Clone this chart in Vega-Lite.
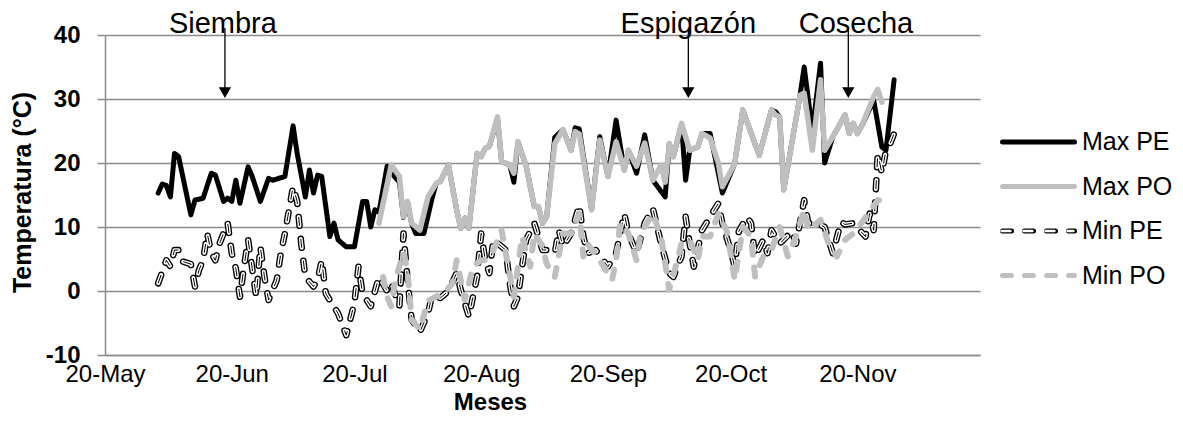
{
  "$schema": "https://vega.github.io/schema/vega-lite/v6.json",
  "width": 875,
  "height": 320,
  "autosize": {"type": "none"},
  "padding": {"left": 105, "top": 35, "right": 203, "bottom": 75},
  "config": {
    "font": "Liberation Sans",
    "view": {"stroke": null},
    "axis": {
      "gridColor": "#8c8c8c", "gridWidth": 1.5,
      "domainColor": "#8c8c8c", "domainWidth": 1.5,
      "tickColor": "#8c8c8c", "tickWidth": 1.5,
      "labelColor": "#000000", "titleColor": "#000000",
      "labelFont": "Liberation Sans", "titleFont": "Liberation Sans"
    },
    "legend": {"labelFont": "Liberation Sans"}
  },
  "datasets": {
    "temperaturas": [
      {"fecha": "2011-06-02", "serie": "Max PE", "temp": 15.3},
      {"fecha": "2011-06-03", "serie": "Max PE", "temp": 16.7},
      {"fecha": "2011-06-04", "serie": "Max PE", "temp": 16.5},
      {"fecha": "2011-06-05", "serie": "Max PE", "temp": 14.7},
      {"fecha": "2011-06-06", "serie": "Max PE", "temp": 21.5},
      {"fecha": "2011-06-07", "serie": "Max PE", "temp": 21},
      {"fecha": "2011-06-10", "serie": "Max PE", "temp": 11.9},
      {"fecha": "2011-06-11", "serie": "Max PE", "temp": 14.2},
      {"fecha": "2011-06-13", "serie": "Max PE", "temp": 14.5},
      {"fecha": "2011-06-15", "serie": "Max PE", "temp": 18.4},
      {"fecha": "2011-06-16", "serie": "Max PE", "temp": 18.1},
      {"fecha": "2011-06-18", "serie": "Max PE", "temp": 14},
      {"fecha": "2011-06-19", "serie": "Max PE", "temp": 14.5},
      {"fecha": "2011-06-20", "serie": "Max PE", "temp": 14},
      {"fecha": "2011-06-21", "serie": "Max PE", "temp": 17.3},
      {"fecha": "2011-06-22", "serie": "Max PE", "temp": 13.7},
      {"fecha": "2011-06-24", "serie": "Max PE", "temp": 19.4},
      {"fecha": "2011-06-25", "serie": "Max PE", "temp": 17.9},
      {"fecha": "2011-06-27", "serie": "Max PE", "temp": 14},
      {"fecha": "2011-06-29", "serie": "Max PE", "temp": 17.6},
      {"fecha": "2011-06-30", "serie": "Max PE", "temp": 17.3},
      {"fecha": "2011-07-03", "serie": "Max PE", "temp": 17.9},
      {"fecha": "2011-07-05", "serie": "Max PE", "temp": 25.8},
      {"fecha": "2011-07-06", "serie": "Max PE", "temp": 21.5},
      {"fecha": "2011-07-08", "serie": "Max PE", "temp": 14.7},
      {"fecha": "2011-07-09", "serie": "Max PE", "temp": 18.9},
      {"fecha": "2011-07-10", "serie": "Max PE", "temp": 15.3},
      {"fecha": "2011-07-11", "serie": "Max PE", "temp": 18.1},
      {"fecha": "2011-07-12", "serie": "Max PE", "temp": 17.9},
      {"fecha": "2011-07-14", "serie": "Max PE", "temp": 8.5},
      {"fecha": "2011-07-15", "serie": "Max PE", "temp": 10.6},
      {"fecha": "2011-07-16", "serie": "Max PE", "temp": 8},
      {"fecha": "2011-07-18", "serie": "Max PE", "temp": 6.9},
      {"fecha": "2011-07-20", "serie": "Max PE", "temp": 6.9},
      {"fecha": "2011-07-22", "serie": "Max PE", "temp": 14},
      {"fecha": "2011-07-23", "serie": "Max PE", "temp": 14},
      {"fecha": "2011-07-24", "serie": "Max PE", "temp": 10},
      {"fecha": "2011-07-25", "serie": "Max PE", "temp": 12.7},
      {"fecha": "2011-07-26", "serie": "Max PE", "temp": 12.3},
      {"fecha": "2011-07-28", "serie": "Max PE", "temp": 19.5},
      {"fecha": "2011-07-29", "serie": "Max PE", "temp": 18.5},
      {"fecha": "2011-07-31", "serie": "Max PE", "temp": 17},
      {"fecha": "2011-08-01", "serie": "Max PE", "temp": 11.5},
      {"fecha": "2011-08-02", "serie": "Max PE", "temp": 13.8},
      {"fecha": "2011-08-03", "serie": "Max PE", "temp": 10.5},
      {"fecha": "2011-08-04", "serie": "Max PE", "temp": 9},
      {"fecha": "2011-08-06", "serie": "Max PE", "temp": 9},
      {"fecha": "2011-08-08", "serie": "Max PE", "temp": 14.5},
      {"fecha": "2011-08-09", "serie": "Max PE", "temp": 16.8},
      {"fecha": "2011-08-10", "serie": "Max PE", "temp": 17.1},
      {"fecha": "2011-08-12", "serie": "Max PE", "temp": 19.7},
      {"fecha": "2011-08-14", "serie": "Max PE", "temp": 12.7},
      {"fecha": "2011-08-15", "serie": "Max PE", "temp": 9.8},
      {"fecha": "2011-08-16", "serie": "Max PE", "temp": 11.4},
      {"fecha": "2011-08-17", "serie": "Max PE", "temp": 9.8},
      {"fecha": "2011-08-19", "serie": "Max PE", "temp": 21.5},
      {"fecha": "2011-08-20", "serie": "Max PE", "temp": 21},
      {"fecha": "2011-08-21", "serie": "Max PE", "temp": 22.3},
      {"fecha": "2011-08-22", "serie": "Max PE", "temp": 22.6},
      {"fecha": "2011-08-24", "serie": "Max PE", "temp": 27},
      {"fecha": "2011-08-25", "serie": "Max PE", "temp": 20.2},
      {"fecha": "2011-08-27", "serie": "Max PE", "temp": 19.7},
      {"fecha": "2011-08-28", "serie": "Max PE", "temp": 17},
      {"fecha": "2011-08-29", "serie": "Max PE", "temp": 23.3},
      {"fecha": "2011-08-31", "serie": "Max PE", "temp": 19.5},
      {"fecha": "2011-09-02", "serie": "Max PE", "temp": 13.2},
      {"fecha": "2011-09-03", "serie": "Max PE", "temp": 13.2},
      {"fecha": "2011-09-04", "serie": "Max PE", "temp": 10.6},
      {"fecha": "2011-09-05", "serie": "Max PE", "temp": 11.5},
      {"fecha": "2011-09-07", "serie": "Max PE", "temp": 24},
      {"fecha": "2011-09-09", "serie": "Max PE", "temp": 25.2},
      {"fecha": "2011-09-11", "serie": "Max PE", "temp": 22},
      {"fecha": "2011-09-12", "serie": "Max PE", "temp": 25.5},
      {"fecha": "2011-09-13", "serie": "Max PE", "temp": 25.3},
      {"fecha": "2011-09-16", "serie": "Max PE", "temp": 12.7},
      {"fecha": "2011-09-18", "serie": "Max PE", "temp": 24.1},
      {"fecha": "2011-09-20", "serie": "Max PE", "temp": 17.9},
      {"fecha": "2011-09-22", "serie": "Max PE", "temp": 26.7},
      {"fecha": "2011-09-24", "serie": "Max PE", "temp": 18.9},
      {"fecha": "2011-09-25", "serie": "Max PE", "temp": 22},
      {"fecha": "2011-09-27", "serie": "Max PE", "temp": 18.4},
      {"fecha": "2011-09-29", "serie": "Max PE", "temp": 24.4},
      {"fecha": "2011-10-01", "serie": "Max PE", "temp": 17.3},
      {"fecha": "2011-10-04", "serie": "Max PE", "temp": 14.7},
      {"fecha": "2011-10-05", "serie": "Max PE", "temp": 23},
      {"fecha": "2011-10-06", "serie": "Max PE", "temp": 21},
      {"fecha": "2011-10-08", "serie": "Max PE", "temp": 26},
      {"fecha": "2011-10-09", "serie": "Max PE", "temp": 17.3},
      {"fecha": "2011-10-10", "serie": "Max PE", "temp": 22},
      {"fecha": "2011-10-12", "serie": "Max PE", "temp": 22.5},
      {"fecha": "2011-10-13", "serie": "Max PE", "temp": 24.6},
      {"fecha": "2011-10-15", "serie": "Max PE", "temp": 24.6},
      {"fecha": "2011-10-18", "serie": "Max PE", "temp": 15.3},
      {"fecha": "2011-10-21", "serie": "Max PE", "temp": 19.9},
      {"fecha": "2011-10-23", "serie": "Max PE", "temp": 28.3},
      {"fecha": "2011-10-25", "serie": "Max PE", "temp": 24.7},
      {"fecha": "2011-10-27", "serie": "Max PE", "temp": 21.2},
      {"fecha": "2011-10-30", "serie": "Max PE", "temp": 28.3},
      {"fecha": "2011-10-31", "serie": "Max PE", "temp": 28},
      {"fecha": "2011-11-01", "serie": "Max PE", "temp": 27.2},
      {"fecha": "2011-11-02", "serie": "Max PE", "temp": 15.8},
      {"fecha": "2011-11-06", "serie": "Max PE", "temp": 30.6},
      {"fecha": "2011-11-07", "serie": "Max PE", "temp": 35},
      {"fecha": "2011-11-09", "serie": "Max PE", "temp": 25},
      {"fecha": "2011-11-11", "serie": "Max PE", "temp": 35.6},
      {"fecha": "2011-11-12", "serie": "Max PE", "temp": 20},
      {"fecha": "2011-11-14", "serie": "Max PE", "temp": 24.1},
      {"fecha": "2011-11-17", "serie": "Max PE", "temp": 27.5},
      {"fecha": "2011-11-18", "serie": "Max PE", "temp": 24.6},
      {"fecha": "2011-11-19", "serie": "Max PE", "temp": 26.2},
      {"fecha": "2011-11-20", "serie": "Max PE", "temp": 24.6},
      {"fecha": "2011-11-21", "serie": "Max PE", "temp": 25.7},
      {"fecha": "2011-11-24", "serie": "Max PE", "temp": 29.8},
      {"fecha": "2011-11-26", "serie": "Max PE", "temp": 22.5},
      {"fecha": "2011-11-27", "serie": "Max PE", "temp": 22},
      {"fecha": "2011-11-29", "serie": "Max PE", "temp": 33},

      {"fecha": "2011-07-26", "serie": "Max PO", "temp": 10.6},
      {"fecha": "2011-07-29", "serie": "Max PO", "temp": 19.7},
      {"fecha": "2011-07-31", "serie": "Max PO", "temp": 17.9},
      {"fecha": "2011-08-01", "serie": "Max PO", "temp": 11.6},
      {"fecha": "2011-08-02", "serie": "Max PO", "temp": 14},
      {"fecha": "2011-08-03", "serie": "Max PO", "temp": 10.6},
      {"fecha": "2011-08-05", "serie": "Max PO", "temp": 9.5},
      {"fecha": "2011-08-07", "serie": "Max PO", "temp": 14.7},
      {"fecha": "2011-08-09", "serie": "Max PO", "temp": 16.8},
      {"fecha": "2011-08-10", "serie": "Max PO", "temp": 17.1},
      {"fecha": "2011-08-12", "serie": "Max PO", "temp": 19.7},
      {"fecha": "2011-08-14", "serie": "Max PO", "temp": 12.7},
      {"fecha": "2011-08-15", "serie": "Max PO", "temp": 9.8},
      {"fecha": "2011-08-16", "serie": "Max PO", "temp": 11.4},
      {"fecha": "2011-08-17", "serie": "Max PO", "temp": 9.8},
      {"fecha": "2011-08-19", "serie": "Max PO", "temp": 21.5},
      {"fecha": "2011-08-20", "serie": "Max PO", "temp": 21},
      {"fecha": "2011-08-21", "serie": "Max PO", "temp": 22.3},
      {"fecha": "2011-08-22", "serie": "Max PO", "temp": 22.6},
      {"fecha": "2011-08-24", "serie": "Max PO", "temp": 27.2},
      {"fecha": "2011-08-25", "serie": "Max PO", "temp": 20.2},
      {"fecha": "2011-08-27", "serie": "Max PO", "temp": 19.7},
      {"fecha": "2011-08-28", "serie": "Max PO", "temp": 18.4},
      {"fecha": "2011-08-29", "serie": "Max PO", "temp": 23.3},
      {"fecha": "2011-08-31", "serie": "Max PO", "temp": 19.5},
      {"fecha": "2011-09-02", "serie": "Max PO", "temp": 13.2},
      {"fecha": "2011-09-03", "serie": "Max PO", "temp": 13.2},
      {"fecha": "2011-09-04", "serie": "Max PO", "temp": 10.6},
      {"fecha": "2011-09-05", "serie": "Max PO", "temp": 11.5},
      {"fecha": "2011-09-07", "serie": "Max PO", "temp": 23},
      {"fecha": "2011-09-09", "serie": "Max PO", "temp": 25.2},
      {"fecha": "2011-09-11", "serie": "Max PO", "temp": 22},
      {"fecha": "2011-09-12", "serie": "Max PO", "temp": 24.9},
      {"fecha": "2011-09-13", "serie": "Max PO", "temp": 24.5},
      {"fecha": "2011-09-16", "serie": "Max PO", "temp": 12.7},
      {"fecha": "2011-09-18", "serie": "Max PO", "temp": 23.6},
      {"fecha": "2011-09-20", "serie": "Max PO", "temp": 17.9},
      {"fecha": "2011-09-22", "serie": "Max PO", "temp": 23.3},
      {"fecha": "2011-09-24", "serie": "Max PO", "temp": 18.9},
      {"fecha": "2011-09-25", "serie": "Max PO", "temp": 22},
      {"fecha": "2011-09-27", "serie": "Max PO", "temp": 19.5},
      {"fecha": "2011-09-29", "serie": "Max PO", "temp": 23.1},
      {"fecha": "2011-10-01", "serie": "Max PO", "temp": 17.3},
      {"fecha": "2011-10-03", "serie": "Max PO", "temp": 19.7},
      {"fecha": "2011-10-04", "serie": "Max PO", "temp": 17},
      {"fecha": "2011-10-05", "serie": "Max PO", "temp": 23},
      {"fecha": "2011-10-06", "serie": "Max PO", "temp": 21},
      {"fecha": "2011-10-08", "serie": "Max PO", "temp": 26.2},
      {"fecha": "2011-10-10", "serie": "Max PO", "temp": 22},
      {"fecha": "2011-10-12", "serie": "Max PO", "temp": 22.5},
      {"fecha": "2011-10-13", "serie": "Max PO", "temp": 24.6},
      {"fecha": "2011-10-15", "serie": "Max PO", "temp": 23.9},
      {"fecha": "2011-10-17", "serie": "Max PO", "temp": 20},
      {"fecha": "2011-10-18", "serie": "Max PO", "temp": 16.3},
      {"fecha": "2011-10-21", "serie": "Max PO", "temp": 19.9},
      {"fecha": "2011-10-23", "serie": "Max PO", "temp": 28.3},
      {"fecha": "2011-10-25", "serie": "Max PO", "temp": 24.7},
      {"fecha": "2011-10-27", "serie": "Max PO", "temp": 21.2},
      {"fecha": "2011-10-30", "serie": "Max PO", "temp": 28.3},
      {"fecha": "2011-10-31", "serie": "Max PO", "temp": 27.5},
      {"fecha": "2011-11-01", "serie": "Max PO", "temp": 27.2},
      {"fecha": "2011-11-02", "serie": "Max PO", "temp": 15.8},
      {"fecha": "2011-11-06", "serie": "Max PO", "temp": 30.6},
      {"fecha": "2011-11-07", "serie": "Max PO", "temp": 30.9},
      {"fecha": "2011-11-09", "serie": "Max PO", "temp": 22},
      {"fecha": "2011-11-11", "serie": "Max PO", "temp": 33},
      {"fecha": "2011-11-12", "serie": "Max PO", "temp": 22},
      {"fecha": "2011-11-14", "serie": "Max PO", "temp": 24.1},
      {"fecha": "2011-11-17", "serie": "Max PO", "temp": 27.5},
      {"fecha": "2011-11-18", "serie": "Max PO", "temp": 24.6},
      {"fecha": "2011-11-19", "serie": "Max PO", "temp": 26.2},
      {"fecha": "2011-11-20", "serie": "Max PO", "temp": 24.6},
      {"fecha": "2011-11-21", "serie": "Max PO", "temp": 25.7},
      {"fecha": "2011-11-24", "serie": "Max PO", "temp": 30.4},
      {"fecha": "2011-11-25", "serie": "Max PO", "temp": 31.5},
      {"fecha": "2011-11-26", "serie": "Max PO", "temp": 29.5},

      {"fecha": "2011-06-02", "serie": "Min PE", "temp": 1.2},
      {"fecha": "2011-06-04", "serie": "Min PE", "temp": 4.8},
      {"fecha": "2011-06-05", "serie": "Min PE", "temp": 3.8},
      {"fecha": "2011-06-06", "serie": "Min PE", "temp": 6.4},
      {"fecha": "2011-06-07", "serie": "Min PE", "temp": 6.4},
      {"fecha": "2011-06-08", "serie": "Min PE", "temp": 4.6},
      {"fecha": "2011-06-10", "serie": "Min PE", "temp": 4.2},
      {"fecha": "2011-06-11", "serie": "Min PE", "temp": 0.7},
      {"fecha": "2011-06-12", "serie": "Min PE", "temp": 3.3},
      {"fecha": "2011-06-13", "serie": "Min PE", "temp": 4.8},
      {"fecha": "2011-06-14", "serie": "Min PE", "temp": 9},
      {"fecha": "2011-06-15", "serie": "Min PE", "temp": 5.9},
      {"fecha": "2011-06-16", "serie": "Min PE", "temp": 4.8},
      {"fecha": "2011-06-17", "serie": "Min PE", "temp": 7.4},
      {"fecha": "2011-06-19", "serie": "Min PE", "temp": 10.6},
      {"fecha": "2011-06-20", "serie": "Min PE", "temp": 5.9},
      {"fecha": "2011-06-21", "serie": "Min PE", "temp": 3.5},
      {"fecha": "2011-06-22", "serie": "Min PE", "temp": -0.9},
      {"fecha": "2011-06-23", "serie": "Min PE", "temp": 3.8},
      {"fecha": "2011-06-24", "serie": "Min PE", "temp": 8},
      {"fecha": "2011-06-25", "serie": "Min PE", "temp": 3.5},
      {"fecha": "2011-06-26", "serie": "Min PE", "temp": -0.9},
      {"fecha": "2011-06-27", "serie": "Min PE", "temp": 6.9},
      {"fecha": "2011-06-28", "serie": "Min PE", "temp": 2.2},
      {"fecha": "2011-06-29", "serie": "Min PE", "temp": -1.4},
      {"fecha": "2011-07-01", "serie": "Min PE", "temp": 1.7},
      {"fecha": "2011-07-02", "serie": "Min PE", "temp": 5.9},
      {"fecha": "2011-07-03", "serie": "Min PE", "temp": 9},
      {"fecha": "2011-07-05", "serie": "Min PE", "temp": 16.3},
      {"fecha": "2011-07-06", "serie": "Min PE", "temp": 14},
      {"fecha": "2011-07-07", "serie": "Min PE", "temp": 7.4},
      {"fecha": "2011-07-08", "serie": "Min PE", "temp": 2.2},
      {"fecha": "2011-07-10", "serie": "Min PE", "temp": 0.7},
      {"fecha": "2011-07-11", "serie": "Min PE", "temp": 1.7},
      {"fecha": "2011-07-12", "serie": "Min PE", "temp": 4.8},
      {"fecha": "2011-07-13", "serie": "Min PE", "temp": -0.4},
      {"fecha": "2011-07-16", "serie": "Min PE", "temp": -3.5},
      {"fecha": "2011-07-18", "serie": "Min PE", "temp": -6.9},
      {"fecha": "2011-07-20", "serie": "Min PE", "temp": -1.9},
      {"fecha": "2011-07-21", "serie": "Min PE", "temp": 3.8},
      {"fecha": "2011-07-22", "serie": "Min PE", "temp": -0.4},
      {"fecha": "2011-07-24", "serie": "Min PE", "temp": -2.4},
      {"fecha": "2011-07-26", "serie": "Min PE", "temp": 2.2},
      {"fecha": "2011-07-28", "serie": "Min PE", "temp": 0},
      {"fecha": "2011-07-29", "serie": "Min PE", "temp": 1.2},
      {"fecha": "2011-07-31", "serie": "Min PE", "temp": -2.4},
      {"fecha": "2011-08-01", "serie": "Min PE", "temp": 9},
      {"fecha": "2011-08-02", "serie": "Min PE", "temp": 1.7},
      {"fecha": "2011-08-03", "serie": "Min PE", "temp": -4.5},
      {"fecha": "2011-08-05", "serie": "Min PE", "temp": -6.4},
      {"fecha": "2011-08-07", "serie": "Min PE", "temp": -3.5},
      {"fecha": "2011-08-08", "serie": "Min PE", "temp": -0.6},
      {"fecha": "2011-08-10", "serie": "Min PE", "temp": -1.1},
      {"fecha": "2011-08-12", "serie": "Min PE", "temp": 0},
      {"fecha": "2011-08-14", "serie": "Min PE", "temp": 2.8},
      {"fecha": "2011-08-15", "serie": "Min PE", "temp": 0.2},
      {"fecha": "2011-08-17", "serie": "Min PE", "temp": -4},
      {"fecha": "2011-08-19", "serie": "Min PE", "temp": 2.2},
      {"fecha": "2011-08-20", "serie": "Min PE", "temp": 9},
      {"fecha": "2011-08-21", "serie": "Min PE", "temp": 4.8},
      {"fecha": "2011-08-22", "serie": "Min PE", "temp": 2.8},
      {"fecha": "2011-08-23", "serie": "Min PE", "temp": 8},
      {"fecha": "2011-08-26", "serie": "Min PE", "temp": 6.4},
      {"fecha": "2011-08-27", "serie": "Min PE", "temp": 1.2},
      {"fecha": "2011-08-28", "serie": "Min PE", "temp": -2.4},
      {"fecha": "2011-08-29", "serie": "Min PE", "temp": -0.9},
      {"fecha": "2011-08-30", "serie": "Min PE", "temp": 3.8},
      {"fecha": "2011-08-31", "serie": "Min PE", "temp": 8},
      {"fecha": "2011-09-02", "serie": "Min PE", "temp": 10.6},
      {"fecha": "2011-09-04", "serie": "Min PE", "temp": 6.4},
      {"fecha": "2011-09-05", "serie": "Min PE", "temp": 6.4},
      {"fecha": "2011-09-07", "serie": "Min PE", "temp": 5.9},
      {"fecha": "2011-09-08", "serie": "Min PE", "temp": 9.5},
      {"fecha": "2011-09-09", "serie": "Min PE", "temp": 6.9},
      {"fecha": "2011-09-11", "serie": "Min PE", "temp": 9},
      {"fecha": "2011-09-13", "serie": "Min PE", "temp": 13.4},
      {"fecha": "2011-09-14", "serie": "Min PE", "temp": 8.5},
      {"fecha": "2011-09-15", "serie": "Min PE", "temp": 5.9},
      {"fecha": "2011-09-17", "serie": "Min PE", "temp": 6.4},
      {"fecha": "2011-09-20", "serie": "Min PE", "temp": 3.8},
      {"fecha": "2011-09-22", "serie": "Min PE", "temp": 5.9},
      {"fecha": "2011-09-24", "serie": "Min PE", "temp": 12.1},
      {"fecha": "2011-09-25", "serie": "Min PE", "temp": 9},
      {"fecha": "2011-09-27", "serie": "Min PE", "temp": 5.9},
      {"fecha": "2011-09-29", "serie": "Min PE", "temp": 10.6},
      {"fecha": "2011-10-01", "serie": "Min PE", "temp": 12.9},
      {"fecha": "2011-10-03", "serie": "Min PE", "temp": 7.4},
      {"fecha": "2011-10-05", "serie": "Min PE", "temp": 2.8},
      {"fecha": "2011-10-06", "serie": "Min PE", "temp": 2.2},
      {"fecha": "2011-10-08", "serie": "Min PE", "temp": 5.4},
      {"fecha": "2011-10-09", "serie": "Min PE", "temp": 11.6},
      {"fecha": "2011-10-10", "serie": "Min PE", "temp": 7.4},
      {"fecha": "2011-10-11", "serie": "Min PE", "temp": 3.8},
      {"fecha": "2011-10-13", "serie": "Min PE", "temp": 9.5},
      {"fecha": "2011-10-15", "serie": "Min PE", "temp": 11.6},
      {"fecha": "2011-10-17", "serie": "Min PE", "temp": 13.7},
      {"fecha": "2011-10-18", "serie": "Min PE", "temp": 10.5},
      {"fecha": "2011-10-20", "serie": "Min PE", "temp": 6.4},
      {"fecha": "2011-10-21", "serie": "Min PE", "temp": 3.8},
      {"fecha": "2011-10-22", "serie": "Min PE", "temp": 9.3},
      {"fecha": "2011-10-24", "serie": "Min PE", "temp": 11.6},
      {"fecha": "2011-10-25", "serie": "Min PE", "temp": 10.6},
      {"fecha": "2011-10-26", "serie": "Min PE", "temp": 5.4},
      {"fecha": "2011-10-28", "serie": "Min PE", "temp": 8},
      {"fecha": "2011-10-29", "serie": "Min PE", "temp": 5.9},
      {"fecha": "2011-10-30", "serie": "Min PE", "temp": 9.5},
      {"fecha": "2011-11-01", "serie": "Min PE", "temp": 7.4},
      {"fecha": "2011-11-04", "serie": "Min PE", "temp": 9.3},
      {"fecha": "2011-11-05", "serie": "Min PE", "temp": 7.4},
      {"fecha": "2011-11-07", "serie": "Min PE", "temp": 14.2},
      {"fecha": "2011-11-08", "serie": "Min PE", "temp": 10.6},
      {"fecha": "2011-11-10", "serie": "Min PE", "temp": 10.6},
      {"fecha": "2011-11-12", "serie": "Min PE", "temp": 10},
      {"fecha": "2011-11-14", "serie": "Min PE", "temp": 5.9},
      {"fecha": "2011-11-16", "serie": "Min PE", "temp": 10.8},
      {"fecha": "2011-11-17", "serie": "Min PE", "temp": 10.4},
      {"fecha": "2011-11-19", "serie": "Min PE", "temp": 10.6},
      {"fecha": "2011-11-22", "serie": "Min PE", "temp": 8.5},
      {"fecha": "2011-11-23", "serie": "Min PE", "temp": 12.1},
      {"fecha": "2011-11-24", "serie": "Min PE", "temp": 9.5},
      {"fecha": "2011-11-25", "serie": "Min PE", "temp": 21.5},
      {"fecha": "2011-11-26", "serie": "Min PE", "temp": 18.4},
      {"fecha": "2011-11-27", "serie": "Min PE", "temp": 22},
      {"fecha": "2011-11-28", "serie": "Min PE", "temp": 23},
      {"fecha": "2011-11-29", "serie": "Min PE", "temp": 24.6},

      {"fecha": "2011-07-27", "serie": "Min PO", "temp": 2.2},
      {"fecha": "2011-07-28", "serie": "Min PO", "temp": -0.9},
      {"fecha": "2011-07-29", "serie": "Min PO", "temp": -2.4},
      {"fecha": "2011-07-30", "serie": "Min PO", "temp": 1.7},
      {"fecha": "2011-08-01", "serie": "Min PO", "temp": 6},
      {"fecha": "2011-08-02", "serie": "Min PO", "temp": 3},
      {"fecha": "2011-08-03", "serie": "Min PO", "temp": -4.5},
      {"fecha": "2011-08-05", "serie": "Min PO", "temp": -6},
      {"fecha": "2011-08-07", "serie": "Min PO", "temp": -1.5},
      {"fecha": "2011-08-11", "serie": "Min PO", "temp": -0.3},
      {"fecha": "2011-08-13", "serie": "Min PO", "temp": 1.2},
      {"fecha": "2011-08-14", "serie": "Min PO", "temp": 4.8},
      {"fecha": "2011-08-16", "serie": "Min PO", "temp": -1.4},
      {"fecha": "2011-08-18", "serie": "Min PO", "temp": 3.8},
      {"fecha": "2011-08-20", "serie": "Min PO", "temp": 4.8},
      {"fecha": "2011-08-21", "serie": "Min PO", "temp": 4.8},
      {"fecha": "2011-08-23", "serie": "Min PO", "temp": 6.4},
      {"fecha": "2011-08-25", "serie": "Min PO", "temp": 9.5},
      {"fecha": "2011-08-26", "serie": "Min PO", "temp": 6},
      {"fecha": "2011-08-28", "serie": "Min PO", "temp": -0.9},
      {"fecha": "2011-08-30", "serie": "Min PO", "temp": 8.5},
      {"fecha": "2011-09-01", "serie": "Min PO", "temp": 3.8},
      {"fecha": "2011-09-02", "serie": "Min PO", "temp": 9},
      {"fecha": "2011-09-04", "serie": "Min PO", "temp": 7},
      {"fecha": "2011-09-05", "serie": "Min PO", "temp": 4.3},
      {"fecha": "2011-09-07", "serie": "Min PO", "temp": 2.2},
      {"fecha": "2011-09-09", "serie": "Min PO", "temp": 9},
      {"fecha": "2011-09-11", "serie": "Min PO", "temp": 9},
      {"fecha": "2011-09-13", "serie": "Min PO", "temp": 12.1},
      {"fecha": "2011-09-14", "serie": "Min PO", "temp": 5.4},
      {"fecha": "2011-09-15", "serie": "Min PO", "temp": 7.4},
      {"fecha": "2011-09-18", "serie": "Min PO", "temp": 4.8},
      {"fecha": "2011-09-21", "serie": "Min PO", "temp": 1.7},
      {"fecha": "2011-09-22", "serie": "Min PO", "temp": 4.8},
      {"fecha": "2011-09-23", "serie": "Min PO", "temp": 10.6},
      {"fecha": "2011-09-25", "serie": "Min PO", "temp": 9},
      {"fecha": "2011-09-27", "serie": "Min PO", "temp": 4.8},
      {"fecha": "2011-09-28", "serie": "Min PO", "temp": 9},
      {"fecha": "2011-10-01", "serie": "Min PO", "temp": 12.1},
      {"fecha": "2011-10-03", "serie": "Min PO", "temp": 8.5},
      {"fecha": "2011-10-05", "serie": "Min PO", "temp": 0.2},
      {"fecha": "2011-10-07", "serie": "Min PO", "temp": 4.8},
      {"fecha": "2011-10-08", "serie": "Min PO", "temp": 7.4},
      {"fecha": "2011-10-10", "serie": "Min PO", "temp": 8},
      {"fecha": "2011-10-12", "serie": "Min PO", "temp": 4.8},
      {"fecha": "2011-10-13", "serie": "Min PO", "temp": 8.5},
      {"fecha": "2011-10-15", "serie": "Min PO", "temp": 8.5},
      {"fecha": "2011-10-17", "serie": "Min PO", "temp": 12.1},
      {"fecha": "2011-10-19", "serie": "Min PO", "temp": 9.5},
      {"fecha": "2011-10-20", "serie": "Min PO", "temp": 5.9},
      {"fecha": "2011-10-21", "serie": "Min PO", "temp": 1.7},
      {"fecha": "2011-10-23", "serie": "Min PO", "temp": 10},
      {"fecha": "2011-10-25", "serie": "Min PO", "temp": 8.5},
      {"fecha": "2011-10-26", "serie": "Min PO", "temp": 2.2},
      {"fecha": "2011-10-28", "serie": "Min PO", "temp": 5.4},
      {"fecha": "2011-10-30", "serie": "Min PO", "temp": 6.4},
      {"fecha": "2011-11-01", "serie": "Min PO", "temp": 10},
      {"fecha": "2011-11-03", "serie": "Min PO", "temp": 5.4},
      {"fecha": "2011-11-05", "serie": "Min PO", "temp": 8.5},
      {"fecha": "2011-11-07", "serie": "Min PO", "temp": 12.7},
      {"fecha": "2011-11-08", "serie": "Min PO", "temp": 9.5},
      {"fecha": "2011-11-11", "serie": "Min PO", "temp": 11.1},
      {"fecha": "2011-11-13", "serie": "Min PO", "temp": 7.4},
      {"fecha": "2011-11-15", "serie": "Min PO", "temp": 5.4},
      {"fecha": "2011-11-17", "serie": "Min PO", "temp": 8},
      {"fecha": "2011-11-19", "serie": "Min PO", "temp": 9},
      {"fecha": "2011-11-21", "serie": "Min PO", "temp": 10.6},
      {"fecha": "2011-11-25", "serie": "Min PO", "temp": 14.2},
      {"fecha": "2011-11-27", "serie": "Min PO", "temp": 14}
    ],
    "eventos": [
      {"evento": "Siembra", "fecha": "2011-06-18T08:00:00Z", "fecha_texto": "2011-06-17T20:00:00Z"},
      {"evento": "Espigazón", "fecha": "2011-10-09T16:00:00Z", "fecha_texto": "2011-10-09T16:00:00Z"},
      {"evento": "Cosecha", "fecha": "2011-11-17T19:00:00Z", "fecha_texto": "2011-11-19T16:00:00Z"}
    ]
  },
  "data": {"name": "temperaturas"},
  "layer": [
    {
      "transform": [{"filter": "datum.serie === 'Max PE'"}],
      "mark": {"type": "line", "strokeWidth": 5, "strokeCap": "round", "strokeJoin": "round"},
      "encoding": {
        "x": {
          "field": "fecha", "type": "temporal",
          "scale": {"type": "utc", "domain": [{"year": 2011, "month": 5, "date": 20, "utc": true}, {"year": 2011, "month": 12, "date": 20, "utc": true}]},
          "axis": {
            "values": [
              {"year": 2011, "month": 5, "date": 20, "utc": true},
              {"year": 2011, "month": 6, "date": 20, "utc": true},
              {"year": 2011, "month": 7, "date": 20, "utc": true},
              {"year": 2011, "month": 8, "date": 20, "utc": true},
              {"year": 2011, "month": 9, "date": 20, "utc": true},
              {"year": 2011, "month": 10, "date": 20, "utc": true},
              {"year": 2011, "month": 11, "date": 20, "utc": true}
            ],
            "format": "%d-%b", "grid": false, "ticks": false, "tickSize": 0,
            "labelFontSize": 24, "labelPadding": 7, "labelFlush": false, "labelOverlap": false,
            "title": "Meses", "titleFontSize": 24, "titleFontWeight": "bold",
            "titleX": 385, "titleY": 47, "titleAlign": "center", "titleBaseline": "middle"
          }
        },
        "y": {
          "field": "temp", "type": "quantitative",
          "scale": {"domain": [-10, 40], "nice": false, "zero": false},
          "axis": {
            "values": [-10, 0, 10, 20, 30, 40], "grid": true, "tickSize": 8,
            "labelExpr": "'' + datum.value",
            "labelFontSize": 24, "labelFontWeight": "bold", "labelPadding": 17,
            "title": "Temperatura (°C)", "titleFontSize": 25, "titleFontWeight": "bold",
            "titleAngle": 270, "titleX": -83, "titleY": 157, "titleAlign": "center", "titleBaseline": "middle"
          }
        },
        "color": {
          "field": "serie", "type": "nominal",
          "scale": {"domain": ["Max PE", "Max PO", "Min PE", "Min PO"], "range": ["#000000", "#bfbfbf", "#000000", "#bfbfbf"]},
          "legend": {
            "title": null, "orient": "none", "legendX": 895, "legendY": 94, "padding": 0,
            "symbolType": "stroke", "symbolSize": 5184, "symbolStrokeWidth": 5,
            "clipHeight": 26, "rowPadding": 18.5,
            "labelFontSize": 25, "labelColor": "#000000", "labelOffset": 5, "labelLimit": 0,
            "encode": {"symbols": {"update": {"strokeCap": {"value": "round"}}}}
          }
        },
        "strokeDash": {
          "field": "serie", "type": "nominal",
          "scale": {"domain": ["Max PE", "Max PO", "Min PE", "Min PO"], "range": [[1, 0], [1, 0], [9, 13], [9, 13]]},
          "legend": {
            "title": null, "orient": "none", "legendX": 895, "legendY": 94, "padding": 0,
            "symbolType": "stroke", "symbolSize": 5184, "symbolStrokeWidth": 5,
            "clipHeight": 26, "rowPadding": 18.5,
            "labelFontSize": 25, "labelColor": "#000000", "labelOffset": 5, "labelLimit": 0,
            "encode": {"symbols": {"update": {"strokeCap": {"value": "round"}}}}
          }
        }
      }
    },
    {
      "transform": [{"filter": "datum.serie === 'Max PO'"}],
      "mark": {"type": "line", "strokeWidth": 5.5, "strokeCap": "round", "strokeJoin": "round"},
      "encoding": {
        "x": {"field": "fecha", "type": "temporal"},
        "y": {"field": "temp", "type": "quantitative"},
        "color": {"field": "serie", "type": "nominal"},
        "strokeDash": {"field": "serie", "type": "nominal"}
      }
    },
    {
      "transform": [{"filter": "datum.serie === 'Min PE'"}],
      "mark": {"type": "line", "strokeWidth": 6.5, "strokeCap": "round", "strokeJoin": "round"},
      "encoding": {
        "x": {"field": "fecha", "type": "temporal"},
        "y": {"field": "temp", "type": "quantitative"},
        "color": {"field": "serie", "type": "nominal"},
        "strokeDash": {"field": "serie", "type": "nominal"}
      }
    },
    {
      "transform": [{"filter": "datum.serie === 'Min PE'"}],
      "mark": {"type": "line", "strokeWidth": 3.8, "strokeCap": "round", "strokeJoin": "round", "strokeDash": [9, 13]},
      "encoding": {
        "x": {"field": "fecha", "type": "temporal"},
        "y": {"field": "temp", "type": "quantitative"},
        "stroke": {
          "field": "serie", "type": "nominal",
          "scale": {"domain": ["Min PE"], "range": ["#ffffff"]},
          "legend": {
            "title": null, "orient": "none", "legendX": 895, "legendY": 183, "padding": 0,
            "symbolType": "stroke", "symbolSize": 5184, "symbolStrokeWidth": 2.4,
            "symbolDash": [9, 13], "clipHeight": 26, "zindex": 2,
            "labelFontSize": 25, "labelOpacity": 0, "labelOffset": 5, "labelLimit": 0,
            "encode": {"symbols": {"update": {"strokeCap": {"value": "round"}}}}
          }
        }
      }
    },
    {
      "transform": [{"filter": "datum.serie === 'Min PE'"}],
      "mark": {"type": "line", "color": "#000000", "strokeWidth": 1, "strokeCap": "butt", "strokeJoin": "round", "strokeDash": [9, 13]},
      "encoding": {
        "x": {"field": "fecha", "type": "temporal"},
        "y": {"field": "temp", "type": "quantitative"}
      }
    },
    {
      "transform": [{"filter": "datum.serie === 'Min PO'"}],
      "mark": {"type": "line", "strokeWidth": 6, "strokeCap": "round", "strokeJoin": "round"},
      "encoding": {
        "x": {"field": "fecha", "type": "temporal"},
        "y": {"field": "temp", "type": "quantitative"},
        "color": {"field": "serie", "type": "nominal"},
        "strokeDash": {"field": "serie", "type": "nominal"}
      }
    },
    {
      "data": {"name": "eventos"},
      "mark": {"type": "rule", "color": "#000000", "strokeWidth": 1.3},
      "encoding": {
        "x": {"field": "fecha", "type": "temporal"},
        "y": {"datum": 41.1, "type": "quantitative"},
        "y2": {"datum": 31.6}
      }
    },
    {
      "data": {"name": "eventos"},
      "mark": {"type": "point", "shape": "triangle-down", "filled": true, "color": "#000000", "opacity": 1, "size": 150},
      "encoding": {
        "x": {"field": "fecha", "type": "temporal"},
        "y": {"datum": 31.0, "type": "quantitative"}
      }
    },
    {
      "data": {"name": "eventos"},
      "mark": {"type": "text", "fontSize": 29, "align": "center", "baseline": "alphabetic", "color": "#000000", "font": "Liberation Sans"},
      "encoding": {
        "x": {"field": "fecha_texto", "type": "temporal"},
        "y": {"datum": 40.25, "type": "quantitative"},
        "text": {"field": "evento"}
      }
    }
  ]
}
